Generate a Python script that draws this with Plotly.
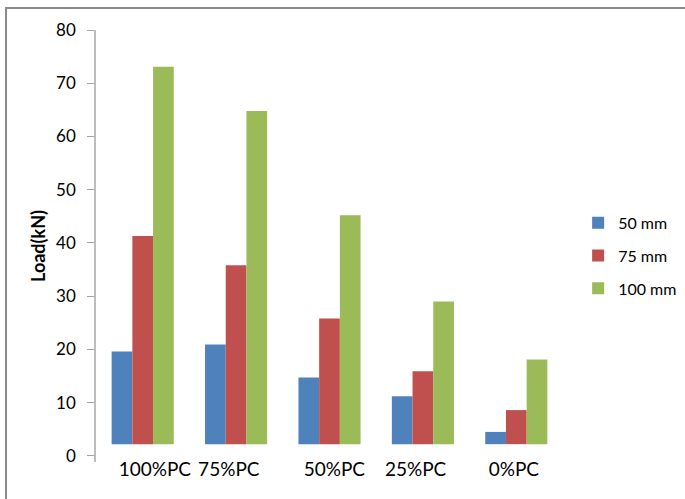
import plotly.graph_objects as go

# Load (kN) by specimen size, for each PC replacement level
categories = ["100%PC", "75%PC", "50%PC", "25%PC", "0%PC"]
tick_text = ["\u00a0" * 5 + "100%PC", "75%PC" + "\u00a0" * 3,
             "\u00a0" * 2 + "50%PC", "25%PC" + "\u00a0" * 3, "0%PC\u00a0"]
series_names = ["50 mm", "75 mm", "100 mm"]
load_50 = [19.6, 20.9, 14.7, 11.2, 4.5]
load_75 = [41.3, 35.8, 25.8, 15.9, 8.6]
load_100 = [73.1, 64.8, 45.2, 29.0, 18.1]
y_ticks = [0, 10, 20, 30, 40, 50, 60, 70, 80]

BAR_BASE = 2.2
colors = ["#4f81bd", "#c0504d", "#9bbb59"]
FONT = "Lato"

fig = go.Figure()
for i, (name, vals) in enumerate(zip(series_names, [load_50, load_75, load_100])):
    fig.add_trace(go.Bar(
        x=categories,
        y=[v - BAR_BASE for v in vals],
        base=BAR_BASE,
        name=name,
        legendgroup=name,
        marker=dict(color=colors[i], line=dict(width=0)),
    ))

fig.update_layout(
    width=685,
    height=499,
    margin=dict(l=96, r=122, t=30, b=37, autoexpand=False),
    paper_bgcolor="white",
    plot_bgcolor="white",
    barmode="group",
    bargap=0.335,
    bargroupgap=0,
    font=dict(family=FONT, size=16, color="#000000"),
    showlegend=True,
    legend=dict(
        x=1.0324, xanchor="left",
        y=0.593, yanchor="top",
        font=dict(family=FONT, size=16, color="#000000"),
        tracegroupgap=9,
        bgcolor="rgba(0,0,0,0)",
    ),
    shapes=[dict(
        type="rect", xref="paper", yref="paper",
        x0=-0.1927, x1=2.0, y0=-1.0, y1=1.0509,
        line=dict(color="#8a8a8a", width=2),
        fillcolor="rgba(0,0,0,0)", layer="above",
    )],
)

fig.update_xaxes(
    type="category",
    tickmode="array",
    tickvals=categories,
    ticktext=tick_text,
    showline=False,
    showgrid=False,
    zeroline=False,
    ticks="",
    tickfont=dict(family=FONT, size=19, color="#000000"),
    ticklabelstandoff=-6,
)

fig.update_yaxes(
    range=[-1.15, 80],
    tickmode="array",
    tickvals=y_ticks,
    showline=True,
    linecolor="#bdbdbd",
    linewidth=1.5,
    showgrid=False,
    zeroline=False,
    ticks="outside",
    ticklen=7,
    tickcolor="#a6a6a6",
    tickwidth=1.2,
    tickfont=dict(family=FONT, size=17, color="#000000"),
    ticklabelstandoff=8,
    title=dict(text="<b>Load(kN)</b>", font=dict(family=FONT, size=18, color="#000000"), standoff=6),
)

fig.write_html("out.html")
